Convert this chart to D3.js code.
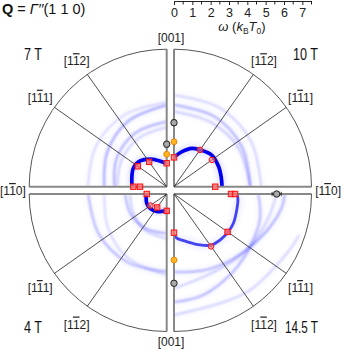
<!DOCTYPE html>
<html lang="en">
<head>
<meta charset="UTF-8">
<title>Polar spectra</title>
<style>
  body { margin: 0; background: #fff; }
  svg { font-family: "Liberation Sans", Arial, sans-serif; }
  .edge { stroke: #888; stroke-width: 2; fill: none; }
  .rim { stroke: #555; stroke-width: 1; fill: none; }
  .dir { stroke: #222; stroke-width: 0.8; }
  .lbl { font-size: 12px; fill: #222; }
  .bar { text-decoration: overline; }
  .field { font-size: 16px; fill: #111; }
</style>
</head>
<body>
<svg width="341" height="350"></svg>
<script src="https://d3js.org/d3.v7.min.js"></script>
<script>
const R_MAX = 7.5;
const fieldLabels = ["7 T", "10 T", "4 T", "14.5 T"];
const dirAngles = [35.26, 54.74];
const dirLast = ["2", "1"];           // [1 1̄ 2], [1 1̄ 1]
const axisTicks = [0, 1, 2, 3, 4, 5, 6, 7];

// lowest branch, [angle from [001] in degrees, omega]
const main7 = [[0, 1.28], [6, 1.32], [18, 1.5], [31, 1.75], [46, 2.02], [61, 2.08], [76, 1.96], [90, 1.89]];
const main10 = [[0, 1.6], [13, 1.96], [25, 2.31], [35, 2.45], [50, 2.68], [66, 2.67], [78, 2.63], [90, 2.62]];
const main4 = [[0, 0.95], [8, 0.94], [30, 1.1], [49, 1.2], [65, 1.2], [80, 1.14], [90, 1.1]];
const main14 = [[0, 2.24], [4, 2.42], [15, 2.69], [27, 3.12], [36.5, 3.46], [45, 3.55], [55, 3.61], [64, 3.61], [76, 3.53], [85, 3.5], [90, 3.44]];

// weaker branches and their spectral weight
const faint7 = [
  [[0, 4.6], [30, 4.55], [60, 4.45], [90, 4.3]],
  [[0, 4.45], [30, 4.15], [60, 3.75], [90, 3.4]],
  [[0, 3.55], [30, 3.4], [60, 3.15], [90, 2.85]],
  [[0, 3.25], [30, 3.05], [60, 2.85], [90, 2.7]]
];
const weights7 = [0.25, 0.6, 0.55, 0.3];
const faint10 = [
  [[0, 5.0], [30, 4.97], [60, 4.87], [90, 4.76]],
  [[0, 4.46], [30, 4.42], [60, 4.3], [90, 4.16]],
  [[0, 4.1], [30, 4.05], [60, 4.1], [90, 4.16]]
];
const weights10 = [0.3, 0.55, 0.35];
const faint4 = [
  [[0, 4.24], [30, 4.3], [60, 4.3], [90, 4.28]],
  [[0, 4.42], [30, 4.1], [60, 3.7], [90, 3.4]],
  [[0, 2.15], [30, 2.2], [60, 2.25], [90, 2.27]],
  [[0, 2.42], [30, 2.3], [60, 2.1], [90, 2.0]]
];
const weights4 = [0.5, 0.25, 0.5, 0.3];
const faint14 = [
  [[0, 4.25], [20, 4.45], [40, 4.75], [55, 5.05], [70, 5.5], [82, 5.9], [90, 6.05]],
  [[0, 5.9], [16, 5.74], [37, 5.33], [55, 5.05], [74, 4.88], [90, 4.6]],
  [[0, 6.6], [23, 6.47], [38, 6.68], [62, 6.95], [72, 7.2]],
  [[0, 5.15], [20, 4.8], [40, 4.85], [55, 5.05], [75, 5.3], [90, 5.6]]
];
const weights14 = [0.55, 0.5, 0.3, 0.3];

// measured points: [angle, omega, error, kind]
const marks7 = [[0, 1.28, 0, "sq"], [0, 1.77, 0, "or"], [0, 2.32, 0.15, "bk"], [35.26, 1.66, 0.1, "sq"], [54.74, 1.93, 0.1, "sq"], [90, 1.82, 0, "sq"], [90, 1.46, 0.15, "sq"]];
const marks10 = [[0, 1.6, 0, "sq"], [0, 2.45, 0, "or"], [0, 3.49, 0.15, "bk"], [35.26, 2.46, 0, "ci"], [54.74, 2.53, 0, "ci"], [90, 2.25, 0, "sq"]];
const marks4 = [[0, 0.92, 0.1, "sq"], [35.26, 0.9, 0.05, "sq"], [54.74, 1.09, 0, "ci"], [90, 1.09, 0, "sq"]];
const marks14 = [[0, 2.11, 0, "sq"], [0, 3.6, 0, "or"], [0, 4.87, 0, "bk"], [35.26, 3.5, 0, "ci"], [54.74, 3.58, 0.1, "sq"], [90, 3.11, 0, "sq"], [90, 3.33, 0, "sq"], [90, 5.6, 0.25, "bk"]];

const svg = d3.select("svg");
const deg = Math.PI / 180;
const r = d3.scaleLinear().domain([0, R_MAX]).range([0, 137.5]);

const defs = svg.append("defs");
[["blurS", 0.7], ["blurM", 0.85], ["blurL", 2.4]].forEach(([id, s]) => {
  defs.append("filter").attr("id", id)
    .attr("x", "-20%").attr("y", "-20%").attr("width", "140%").attr("height", "140%")
    .append("feGaussianBlur").attr("stdDeviation", s);
});

function dirLabel(sel, last) {
  sel.append("tspan").text("[1");
  sel.append("tspan").attr("class", "bar").text("1");
  sel.append("tspan").text(last + "]");
}

const quads = [
  { field: fieldLabels[0], sx: -1, sy: -1, main: main7, faint: faint7, w: weights7, marks: marks7, strong: 1 },
  { field: fieldLabels[1], sx: 1, sy: -1, main: main10, faint: faint10, w: weights10, marks: marks10, strong: 1 },
  { field: fieldLabels[2], sx: -1, sy: 1, main: main4, faint: faint4, w: weights4, marks: marks4, strong: 1 },
  { field: fieldLabels[3], sx: 1, sy: 1, main: main14, faint: faint14, w: weights14, marks: marks14, strong: 0.6 }
];

quads.forEach((q, i) => {
  const cx = q.sx < 0 ? 166.7 : 174;
  const cy = q.sy < 0 ? 186.7 : 194;
  const ang = t => q.sy < 0 ? q.sx * t * deg : Math.PI - q.sx * t * deg;
  const a0 = Math.min(ang(0), ang(90)), a1 = Math.max(ang(0), ang(90));
  const g = svg.append("g").attr("transform", `translate(${cx},${cy})`);

  defs.append("clipPath").attr("id", "clip" + i)
    .append("path").attr("d", d3.arc()({ innerRadius: 0, outerRadius: r(R_MAX), startAngle: a0, endAngle: a1 }));

  const line = d3.lineRadial()
    .angle(d => ang(d[0]))
    .radius(d => r(d[1]))
    .curve(d3.curveCatmullRom.alpha(0.5));

  const inten = g.append("g").attr("clip-path", `url(#clip${i})`);
  q.faint.forEach((c, k) => {
    inten.append("path").attr("d", line(c)).attr("fill", "none")
      .attr("stroke", "#6060ff").attr("stroke-width", 5).attr("opacity", q.w[k] * 0.15)
      .attr("filter", "url(#blurL)");
    inten.append("path").attr("d", line(c)).attr("fill", "none")
      .attr("stroke", "#3030ff").attr("stroke-width", 1.3).attr("opacity", q.w[k])
      .attr("filter", "url(#blurM)");
  });
  inten.append("path").attr("d", line(q.main)).attr("fill", "none")
    .attr("stroke", "#4a4aff").attr("stroke-width", 8).attr("opacity", 0.15 * q.strong)
    .attr("filter", "url(#blurL)");
  inten.append("path").attr("d", line(q.main)).attr("fill", "none")
    .attr("stroke", "#0000ee").attr("stroke-width", 1.5 + 2.2 * q.strong).attr("opacity", 0.3 + 0.7 * q.strong)
    .attr("filter", "url(#blurS)");

  // frame
  const p0 = d3.pointRadial(ang(0), r(R_MAX));
  const p90 = d3.pointRadial(ang(90), r(R_MAX));
  g.append("line").attr("class", "edge").attr("x2", p0[0]).attr("y2", p0[1]);
  g.append("line").attr("class", "edge").attr("x2", p90[0]).attr("y2", p90[1]);
  const rim = d3.path();
  rim.arc(0, 0, r(R_MAX), a0 - Math.PI / 2, a1 - Math.PI / 2);
  g.append("path").attr("class", "rim").attr("d", rim.toString());

  dirAngles.forEach((t, k) => {
    const p = d3.pointRadial(ang(t), r(R_MAX));
    g.append("line").attr("class", "dir").attr("x2", p[0]).attr("y2", p[1]);
    const pl = d3.pointRadial(ang(t), r(R_MAX) + 15);
    g.append("text").attr("class", "lbl")
      .attr("x", pl[0] + q.sx * 2).attr("y", pl[1] + (q.sy < 0 ? 3 : 10))
      .attr("text-anchor", "middle").call(dirLabel, dirLast[k]);
  });

  // data points
  q.marks.forEach(([t, w, e, kind]) => {
    const a = ang(t);
    const col = kind === "bk" ? "#222" : (kind === "or" ? "#e07b00" : "#ff2020");
    if (e > 0) {
      const pa = d3.pointRadial(a, r(w - e)), pb = d3.pointRadial(a, r(w + e));
      const nx = Math.cos(a) * 2.2, ny = Math.sin(a) * 2.2;
      g.append("line").attr("x1", pa[0]).attr("y1", pa[1]).attr("x2", pb[0]).attr("y2", pb[1])
        .attr("stroke", col).attr("stroke-width", 0.9);
      [pa, pb].forEach(pp => g.append("line")
        .attr("x1", pp[0] - nx).attr("y1", pp[1] - ny).attr("x2", pp[0] + nx).attr("y2", pp[1] + ny)
        .attr("stroke", col).attr("stroke-width", 0.9));
    }
    const p = d3.pointRadial(a, r(w));
    if (kind === "sq") {
      g.append("rect").attr("x", p[0] - 2.7).attr("y", p[1] - 2.7).attr("width", 5.4).attr("height", 5.4)
        .attr("fill", "#ff7070").attr("fill-opacity", 0.75).attr("stroke", "#ff1010").attr("stroke-width", 1);
    } else if (kind === "ci") {
      g.append("circle").attr("cx", p[0]).attr("cy", p[1]).attr("r", 2.8)
        .attr("fill", "#ff8080").attr("fill-opacity", 0.6).attr("stroke", "#ff1010").attr("stroke-width", 1);
    } else if (kind === "or") {
      g.append("circle").attr("cx", p[0]).attr("cy", p[1]).attr("r", 3)
        .attr("fill", "#ffb320").attr("stroke", "#e07b00").attr("stroke-width", 0.8);
    } else {
      g.append("circle").attr("cx", p[0]).attr("cy", p[1]).attr("r", 3.2)
        .attr("fill", "#a8a8a8").attr("stroke", "#222").attr("stroke-width", 1);
    }
  });

  svg.append("text").attr("class", "field")
    .attr("x", q.sx < 0 ? 24 : 318).attr("y", q.sy < 0 ? 60 : 333)
    .attr("text-anchor", q.sx < 0 ? "start" : "end")
    .attr("textLength", [18, 25, 18, 33][i]).attr("lengthAdjust", "spacingAndGlyphs")
    .text(q.field);
});

// axis direction labels
svg.append("text").attr("class", "lbl").attr("x", 171).attr("y", 42).attr("text-anchor", "middle").text("[001]");
svg.append("text").attr("class", "lbl").attr("x", 171).attr("y", 346).attr("text-anchor", "middle").text("[001]");
svg.append("text").attr("class", "lbl").attr("x", 0).attr("y", 195).call(dirLabel, "0");
svg.append("text").attr("class", "lbl").attr("x", 341).attr("y", 195).attr("text-anchor", "end").call(dirLabel, "0");

// title
const title = svg.append("text").attr("x", 2).attr("y", 14).attr("font-size", 14.5).attr("fill", "#111");
title.append("tspan").attr("font-weight", "bold").text("Q");
title.append("tspan").text(" = ");
title.append("tspan").attr("font-style", "italic").text("\u0393\u2032\u2032");
title.append("tspan").text("(1 1 0)");

// energy scale
const xs = d3.scaleLinear().domain([0, R_MAX]).range([174, 174 + r(R_MAX)]);
const ax = svg.append("g").attr("transform", "translate(0,1)")
  .call(d3.axisBottom(xs).tickValues(axisTicks).tickSize(4).tickPadding(3.5).tickSizeOuter(0).tickFormat(d3.format("d")));
ax.attr("font-family", null).attr("font-size", 12.5);
ax.selectAll("path, line").attr("stroke", "#222");
ax.selectAll("text").attr("fill", "#222");
ax.selectAll(".minor").data(d3.range(0.5, R_MAX + 0.01, 1)).join("line")
  .attr("x1", d => xs(d)).attr("x2", d => xs(d)).attr("y2", 3.5).attr("stroke", "#222");

const al = svg.append("text").attr("x", 242).attr("y", 31).attr("text-anchor", "middle").attr("font-size", 13).attr("fill", "#222");
al.append("tspan").attr("font-style", "italic").text("\u03c9");
al.append("tspan").text(" (");
al.append("tspan").attr("font-style", "italic").text("k");
al.append("tspan").attr("font-size", 8.5).attr("dy", 2.5).text("B");
al.append("tspan").attr("font-style", "italic").attr("dy", -2.5).text("T");
al.append("tspan").attr("font-size", 8.5).attr("dy", 2.5).text("0");
al.append("tspan").attr("dy", -2.5).text(")");
</script>
</body>
</html>
